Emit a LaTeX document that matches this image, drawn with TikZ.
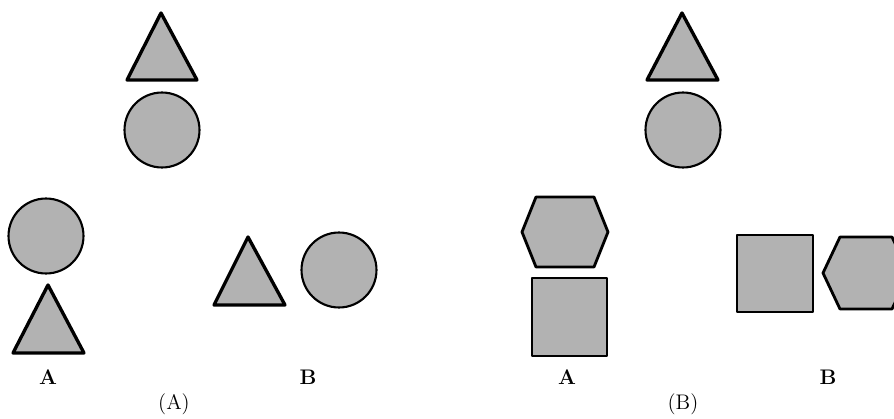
\documentclass[tikz,border=0pt]{standalone}
\usepackage{tikz}

\tikzset{
  blob/.style={draw=black, fill=black!30, line width=1.6pt, line join=round},
  thick blob/.style={blob, line width=1.9pt},
  thin blob/.style={blob, line width=1.2pt},
  tag/.style={font=\large\bfseries},
  caption/.style={font=\large}
}

\begin{document}
\begin{tikzpicture}[x=0.02cm, y=-0.02cm]
            \useasboundingbox (0,0) rectangle (894,419);
            \clip (0,0) rectangle (894,419);

            % Panel (A): the pair on top
            \draw[thick blob] (161,13) -- (197,80) -- (127,80) -- cycle;
            \draw[thin blob] (162,130) circle[radius=0.75cm];

            % Panel (A): choice A, stacked
            \draw[thin blob] (46,236) circle[radius=0.75cm];
            \draw[thick blob] (48,285) -- (84,353) -- (13,353) -- cycle;
            \node[tag] (tagAA) at (48,377) {A};

            % Panel (A): choice B, side by side
            \draw[thick blob] (248,237) -- (285,305) -- (214,305) -- cycle;
            \draw[thin blob] (339,270) circle[radius=0.75cm];
            \node[tag] (tagAB) at (308,377) {B};

            \node[caption] (capA) at (174,404) {(A)};

            % Panel (B): the pair on top
            \draw[thick blob] (682,13) -- (718,80) -- (647,80) -- cycle;
            \draw[thin blob] (683,130) circle[radius=0.75cm];

            % Panel (B): choice A, stacked
            \draw[blob, shift={(565,232)}] (-43,0) -- (-29,-35) -- (29,-35) -- (43,0) -- (29,35) -- (-29,35) -- cycle;
            \draw[blob] (532,278) rectangle (607,356);
            \node[tag] (tagBA) at (567,377) {A};

            % Panel (B): choice B, side by side
            \draw[blob] (737,235) rectangle (813,312);
            \draw[blob, shift={(866,273)}] (-43,0) -- (-26,-36) -- (26,-36) -- (43,0) -- (26,36) -- (-26,36) -- cycle;
            \node[tag] (tagBB) at (828,377) {B};

            \node[caption] (capB) at (683,404) {(B)};
\end{tikzpicture}
\end{document}
